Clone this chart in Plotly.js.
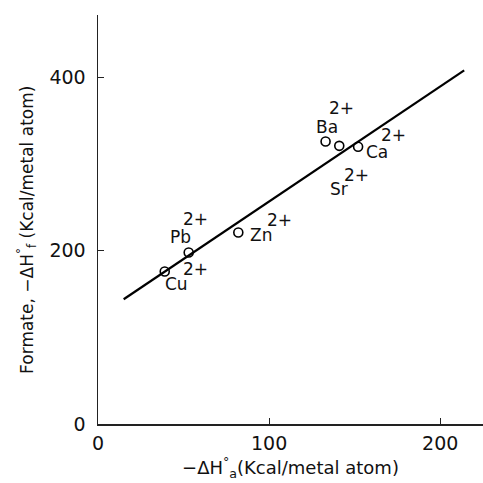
<!DOCTYPE html>
<html>
<head>
<meta charset="utf-8">
<script src="https://cdn.plot.ly/plotly-3.0.1.min.js"></script>
<style>html,body{margin:0;padding:0;background:#fff;}#chart{width:483px;height:483px;}</style>
</head>
<body>
<div id="chart"></div>
<script>
// Data
const ions = ['Cu', 'Pb', 'Zn', 'Ba', 'Sr', 'Ca'];
const charge = '2+';
const hydration = [39, 53, 82, 133, 141, 152];       // -ΔH°a (kcal/metal atom)
const formate = [176, 198, 221, 326, 321, 320];       // -ΔH°f (kcal/metal atom)
const fitX = [15, 214];
const fitY = [144, 408];
const xTicks = [0, 100, 200];
const yTicks = [0, 200, 400];
const xTitle = '−ΔH<sup>°</sup><sub>a</sub>(Kcal/metal atom)';
const yTitle = 'Formate, −ΔH<sup>°</sup><sub>f</sub> (Kcal/metal atom)';

// label offsets (pixels) relative to each point: [name dx, name dy, charge dx, charge dy]
const labelOffsets = {
  Cu: [12, -13, 31, 2],
  Pb: [-8, 15, 7, 33],
  Zn: [23, -2, 41, 13],
  Ba: [1, 15, 16, 34],
  Sr: [0, -43, 17, -29],
  Ca: [19, -5, 35, 12]
};

const FONT = 'DejaVu Sans, Liberation Sans, sans-serif';
const annotations = [];
ions.forEach((ion, i) => {
  const o = labelOffsets[ion];
  annotations.push({x: hydration[i], y: formate[i], text: ion, showarrow: false,
    xshift: o[0], yshift: o[1], xanchor: 'center', yanchor: 'middle',
    font: {family: FONT, size: 17, color: '#111'}});
  annotations.push({x: hydration[i], y: formate[i], text: charge, showarrow: false,
    xshift: o[2], yshift: o[3], xanchor: 'center', yanchor: 'middle',
    font: {family: FONT, size: 17, color: '#111'}});
});
// y-axis title placed as a rotated paper-referenced annotation
annotations.push({xref: 'paper', yref: 'paper', x: -0.184, y: 0.475, text: yTitle,
  textangle: -90, showarrow: false, xanchor: 'center', yanchor: 'middle',
  font: {family: FONT, size: 17, color: '#111'}});

const traces = [
  {x: fitX, y: fitY, mode: 'lines', line: {color: '#000', width: 2.2}, hoverinfo: 'skip'},
  {x: hydration, y: formate, mode: 'markers',
   marker: {symbol: 'circle-open', size: 9, color: '#000', line: {width: 1.6, color: '#000'}}}
];

const layout = {
  width: 483, height: 483,
  margin: {l: 98, r: 0, t: 15, b: 59},
  paper_bgcolor: '#fff', plot_bgcolor: '#fff',
  showlegend: false,
  font: {family: FONT, color: '#111'},
  xaxis: {
    range: [0, 225], tickvals: xTicks, ticktext: xTicks.map(String),
    ticks: 'inside', ticklen: 6, tickwidth: 1.2, tickcolor: '#222',
    showline: true, linecolor: '#222', linewidth: 1.5,
    showgrid: false, zeroline: false,
    tickfont: {family: FONT, size: 19, color: '#111'},
    ticklabelstandoff: 2,
    automargin: false,
    title: {text: xTitle, standoff: 4,
            font: {family: FONT, size: 18, color: '#111'}}
  },
  yaxis: {
    range: [0, 472], tickvals: yTicks, ticktext: yTicks.map(String),
    ticks: 'inside', ticklen: 6, tickwidth: 1.2, tickcolor: '#222',
    showline: true, linecolor: '#222', linewidth: 1.5,
    showgrid: false, zeroline: false,
    tickfont: {family: FONT, size: 19, color: '#111'},
    ticklabelstandoff: 7,
    automargin: false
  },
  annotations: annotations
};

Plotly.newPlot('chart', traces, layout, {staticPlot: true, displayModeBar: false});
</script>
</body>
</html>
